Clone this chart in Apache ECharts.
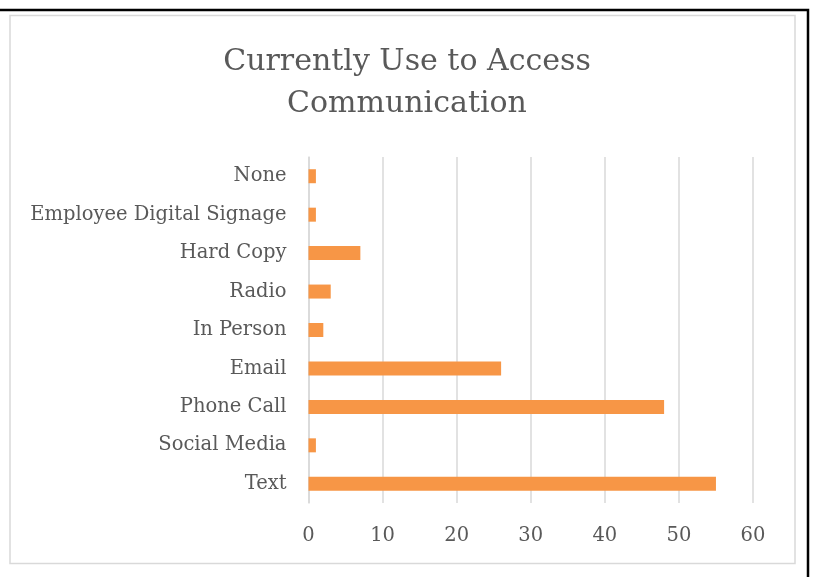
<!DOCTYPE html>
<html>
<head>
<meta charset="utf-8">
<script src="https://cdn.jsdelivr.net/npm/echarts@6/dist/echarts.min.js"></script>
<style>
  html, body { margin: 0; padding: 0; background: #ffffff; }
  #chart { width: 814px; height: 577px; }
</style>
</head>
<body>
<div id="chart"></div>
<script>
// Channels, listed bottom-to-top as they appear on the category axis
const categories = ['Text', 'Social Media', 'Phone Call', 'Email', 'In Person', 'Radio', 'Hard Copy', 'Employee Digital Signage', 'None'];
// Number of responses per channel
const responses = [55, 1, 48, 26, 2, 3, 7, 1, 1];
const titleText = 'Currently Use to Access\nCommunication';

const textColor = '#595959';
const fontFamily = '"DejaVu Serif", "Liberation Serif", serif';

const chart = echarts.init(document.getElementById('chart'), null, { renderer: 'canvas' });

chart.setOption({
  backgroundColor: '#ffffff',
  animation: false,
  title: {
    text: titleText,
    left: 'center',
    top: 36,
    textStyle: {
      color: textColor,
      fontFamily: fontFamily,
      fontWeight: 'normal',
      fontSize: 30,
      lineHeight: 42
    }
  },
  graphic: [
    // light frame around the chart
    {
      type: 'rect',
      shape: { x: 10, y: 15.5, width: 785, height: 548 },
      style: { fill: 'none', stroke: '#d9d9d9', lineWidth: 1.5 },
      silent: true
    },
    // page rule along the top and the right edge
    {
      type: 'polyline',
      shape: { points: [[0, 10], [808, 10], [808, 577]] },
      style: { fill: 'none', stroke: '#000000', lineWidth: 2.5 },
      silent: true
    }
  ],
  grid: {
    left: 308.5,
    right: 61,
    top: 157,
    bottom: 74,
    containLabel: false
  },
  xAxis: {
    type: 'value',
    min: 0,
    max: 60,
    interval: 10,
    axisLine: { show: false },
    axisTick: { show: false },
    splitLine: { show: true, lineStyle: { color: '#d9d9d9', width: 1.5 } },
    axisLabel: {
      color: textColor,
      fontFamily: fontFamily,
      fontSize: 19.5,
      margin: 23
    }
  },
  yAxis: {
    type: 'category',
    data: categories,
    axisLine: { show: true, lineStyle: { color: '#d9d9d9', width: 1.5 } },
    axisTick: { show: false },
    axisLabel: {
      color: textColor,
      fontFamily: fontFamily,
      fontSize: 19.5,
      margin: 22,
      padding: [4, 0, 0, 0]
    }
  },
  series: [
    {
      type: 'bar',
      data: responses,
      barWidth: 14,
      itemStyle: { color: '#F79646' },
      silent: true
    }
  ]
});
</script>
</body>
</html>
